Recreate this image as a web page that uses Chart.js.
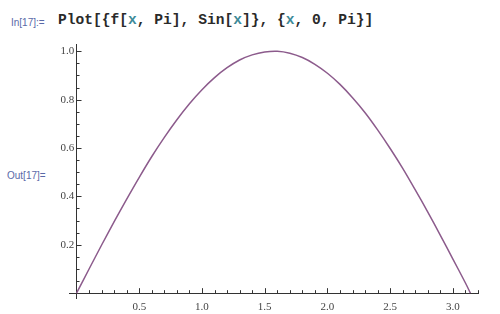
<!DOCTYPE html>
<html>
<head>
<meta charset="utf-8">
<script src="https://cdn.jsdelivr.net/npm/chart.js@4/dist/chart.umd.min.js"></script>
<style>
  body { margin: 0; background: #fff; }
  #wrap { position: relative; width: 500px; height: 314px; overflow: hidden; }
  #chart { position: absolute; left: 0; top: 0; }
  .lbl { position: absolute; font-family: "Liberation Sans", Arial, sans-serif; font-size: 10px; color: #5a6aa8; }
  #code { position: absolute; left: 58px; top: 12px; font-family: "Liberation Mono", "Courier New", monospace;
          font-weight: bold; font-size: 14.6px; color: #2a2a2a; white-space: pre; }
  #code .v { color: #3d8a98; }
</style>
</head>
<body>
<div id="wrap">
  <div class="lbl" style="left:11px; top:17px;">In[17]:=</div>
  <div id="code">Plot[{f[<span class="v">x</span>, Pi], Sin[<span class="v">x</span>]}, {<span class="v">x</span>, 0, Pi}]</div>
  <div class="lbl" style="left:7px; top:170px;">Out[17]=</div>
  <canvas id="chart" width="500" height="314"></canvas>
</div>
<script>
// valores
const xValues = [0, 0.1, 0.2, 0.3, 0.4, 0.5, 0.6, 0.7, 0.8, 0.9, 1.0, 1.1, 1.2, 1.3, 1.4, 1.5, 1.6,
                 1.7, 1.8, 1.9, 2.0, 2.1, 2.2, 2.3, 2.4, 2.5, 2.6, 2.7, 2.8, 2.9, 3.0, 3.1, 3.14];
const yValues = [0, 0.100, 0.199, 0.296, 0.389, 0.479, 0.565, 0.644, 0.717, 0.783, 0.841, 0.891, 0.932, 0.964,
                 0.985, 0.997, 1.000, 0.992, 0.974, 0.946, 0.909, 0.863, 0.808, 0.746, 0.675, 0.598, 0.516,
                 0.427, 0.335, 0.239, 0.141, 0.042, 0];
const xMajor = [0, 0.5, 1.0, 1.5, 2.0, 2.5, 3.0];
const yMajor = [0, 0.2, 0.4, 0.6, 0.8, 1.0];
const xMinorStep = 0.1;
const yMinorStep = 0.05;

function buildTicks(major, step, max) {
    const vals = [];
    for (let v = 0; v <= max + 1e-9; v += step) vals.push(Math.round(v * 1000) / 1000);
    return vals.map(v => ({ value: v, major: major.some(m => Math.abs(m - v) < 1e-6) }));
}

const inwardTicks = {
    id: 'inwardTicks',
    afterDraw(chart) {
        const ctx = chart.ctx;
        const xs = chart.scales.x, ys = chart.scales.y;
        const x0 = xs.getPixelForValue(0), y0 = ys.getPixelForValue(0);
        ctx.save();
        ctx.strokeStyle = '#333';
        ctx.lineWidth = 1;
        xs.ticks.forEach(t => {
            if (t.value <= 0) return;
            const px = Math.round(xs.getPixelForValue(t.value)) + 0.5;
            const len = t.major ? 5 : 3;
            ctx.beginPath(); ctx.moveTo(px, y0); ctx.lineTo(px, y0 - len); ctx.stroke();
        });
        ys.ticks.forEach(t => {
            if (t.value <= 0) return;
            const py = Math.round(ys.getPixelForValue(t.value)) + 0.5;
            const len = t.major ? 5 : 3;
            ctx.beginPath(); ctx.moveTo(x0, py); ctx.lineTo(x0 + len, py); ctx.stroke();
        });
        ctx.restore();
    }
};

const tickFont = { family: '"Liberation Serif", "Times New Roman", serif', size: 11 };

new Chart(document.getElementById('chart').getContext('2d'), {
    type: 'line',
    data: {
        datasets: [{
            data: xValues.map((x, i) => ({ x: x, y: yValues[i] })),
            borderColor: '#8c5b8c',
            borderWidth: 1.5,
            pointRadius: 0,
            tension: 0.3,
            fill: false
        }]
    },
    options: {
        responsive: false,
        animation: false,
        layout: { padding: { left: 69, right: 22, top: 44, bottom: 16 } },
        plugins: { legend: { display: false }, tooltip: { enabled: false } },
        scales: {
            x: {
                type: 'linear',
                position: { y: 0 },
                min: -0.06, max: 3.2,
                afterBuildTicks: s => { s.ticks = buildTicks(xMajor, xMinorStep, 3.2); },
                grid: { display: false, drawTicks: false },
                border: { color: '#333', width: 1 },
                ticks: {
                    autoSkip: false, maxRotation: 0, padding: 7,
                    color: '#444', font: tickFont,
                    callback: (v) => (v > 0 && xMajor.some(m => Math.abs(m - v) < 1e-6)) ? v.toFixed(1) : ''
                }
            },
            y: {
                type: 'linear',
                position: { x: 0 },
                min: -0.02, max: 1.03,
                afterBuildTicks: s => { s.ticks = buildTicks(yMajor, yMinorStep, 1.03); },
                grid: { display: false, drawTicks: false },
                border: { color: '#333', width: 1 },
                ticks: {
                    autoSkip: false, padding: 9,
                    color: '#444', font: tickFont,
                    // espacio fino al final para separar la etiqueta del eje
                    callback: (v) => (v > 0 && yMajor.some(m => Math.abs(m - v) < 1e-6)) ? v.toFixed(1) + '\u2009' : ''
                }
            }
        }
    },
    plugins: [inwardTicks]
});
</script>
</body>
</html>
